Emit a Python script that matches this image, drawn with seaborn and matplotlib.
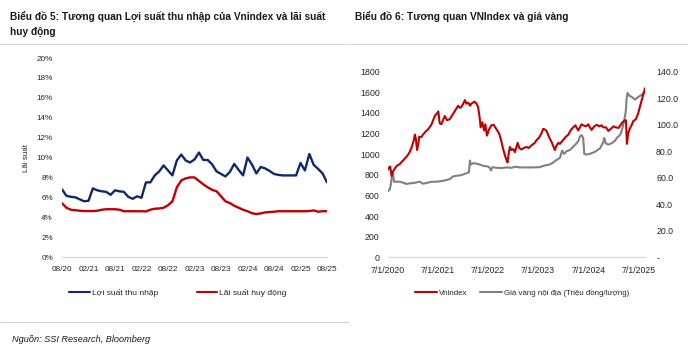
import numpy as np
import pandas as pd
import matplotlib
matplotlib.use("Agg")
import matplotlib.pyplot as plt
import matplotlib.dates as mdates
from matplotlib import font_manager as fm
from matplotlib.lines import Line2D
from matplotlib.ticker import FuncFormatter, MultipleLocator
import seaborn as sns

sns.set_theme(style="white")
_names = {f.name for f in fm.fontManager.ttflist}
if "Liberation Sans Narrow" in _names:
    BASE, SC = "Liberation Sans Narrow", 1.0 / 0.82
else:
    BASE, SC = "Liberation Sans", 1.0
plt.rcParams["font.family"] = [BASE, "DejaVu Sans"]


def fs(v):
    return v * SC


# ---------------- Chart 5 data (monthly, 08/2020 - 08/2025) ----------------
month_labels = ["08/20", "02/21", "08/21", "02/22", "08/22", "02/23",
                "08/23", "02/24", "08/24", "02/25", "08/25"]
earnings_yield = [6.8, 6.15, 6.05, 6.0, 5.8, 5.6, 5.65, 6.9, 6.7, 6.6,
                  6.55, 6.25, 6.7, 6.6, 6.55, 6.05, 5.85, 6.1, 5.95, 7.5,
                  7.5, 8.2, 8.6, 9.2, 8.7, 8.2, 9.7, 10.3, 9.7, 9.5,
                  9.8, 10.5, 9.75, 9.75, 9.3, 8.6, 8.35, 8.1, 8.55, 9.35,
                  8.75, 8.2, 10.0, 9.3, 8.4, 9.05, 8.9, 8.65, 8.35, 8.25,
                  8.2, 8.2, 8.2, 8.2, 9.45, 8.7, 10.35, 9.25, 8.85, 8.4,
                  7.5]
deposit_rate = [5.4, 4.95, 4.75, 4.7, 4.65, 4.62, 4.62, 4.62, 4.65, 4.75,
                4.8, 4.8, 4.8, 4.75, 4.6, 4.6, 4.6, 4.6, 4.6, 4.58,
                4.75, 4.85, 4.88, 4.95, 5.2, 5.6, 7.0, 7.7, 7.9, 8.0,
                8.0, 7.65, 7.3, 7.0, 6.75, 6.6, 6.1, 5.6, 5.42, 5.15,
                4.95, 4.75, 4.6, 4.4, 4.32, 4.38, 4.48, 4.52, 4.55, 4.6,
                4.6, 4.6, 4.6, 4.6, 4.6, 4.6, 4.62, 4.68, 4.55, 4.6,
                4.6]

# ---------------- Chart 6 data ----------------
vni_dates = ["2020-07-01", "2020-07-08", "2020-07-17", "2020-07-27", "2020-08-07",
             "2020-09-01", "2020-09-25", "2020-10-19", "2020-11-13", "2020-12-02",
             "2020-12-19", "2021-01-06", "2021-01-13", "2021-01-20", "2021-01-29",
             "2021-02-07", "2021-02-14", "2021-03-01", "2021-03-13", "2021-04-02",
             "2021-04-19", "2021-05-13", "2021-06-07", "2021-06-26", "2021-07-03",
             "2021-07-13", "2021-07-25", "2021-08-19", "2021-09-05", "2021-09-25",
             "2021-10-07", "2021-11-01", "2021-11-25", "2021-12-07", "2021-12-19",
             "2022-01-05", "2022-01-13", "2022-01-25", "2022-02-07", "2022-02-19",
             "2022-03-01", "2022-03-13", "2022-03-25", "2022-04-07", "2022-04-19",
             "2022-05-01", "2022-05-08", "2022-05-20", "2022-06-02", "2022-06-11",
             "2022-06-23", "2022-07-08", "2022-07-25", "2022-08-11", "2022-09-01",
             "2022-09-20", "2022-10-07", "2022-10-19", "2022-11-01", "2022-11-13",
             "2022-11-20", "2022-11-29", "2022-12-07", "2022-12-19", "2023-01-01",
             "2023-01-13", "2023-02-02", "2023-02-14", "2023-03-01", "2023-03-18",
             "2023-04-07", "2023-04-23", "2023-05-13", "2023-06-07", "2023-06-19",
             "2023-07-08", "2023-07-25", "2023-08-07", "2023-08-19", "2023-09-01",
             "2023-09-13", "2023-09-25", "2023-10-07", "2023-10-19", "2023-11-01",
             "2023-11-08", "2023-11-25", "2023-12-07", "2024-01-01", "2024-01-20",
             "2024-02-07", "2024-02-23", "2024-03-13", "2024-03-29", "2024-04-19",
             "2024-05-01", "2024-05-13", "2024-05-25", "2024-06-14", "2024-07-01",
             "2024-07-13", "2024-07-25", "2024-08-14", "2024-09-01", "2024-09-20",
             "2024-10-07", "2024-10-19", "2024-11-08", "2024-11-25", "2024-12-11",
             "2025-01-01", "2025-01-18", "2025-02-07", "2025-02-23", "2025-03-08",
             "2025-03-22", "2025-04-02", "2025-04-09", "2025-04-18", "2025-05-01",
             "2025-05-13", "2025-05-25", "2025-06-14", "2025-07-01", "2025-07-13",
             "2025-07-25", "2025-08-07", "2025-08-19"]
vni_values = [850, 870, 880, 790, 835,
              885, 905, 940, 975, 1010,
              1060, 1140, 1190, 1150, 1040,
              1100, 1170, 1165, 1190, 1220,
              1240, 1285, 1370, 1400, 1415,
              1300, 1290, 1370, 1330, 1340,
              1365, 1420, 1470, 1450, 1460,
              1500, 1525, 1490, 1500, 1470,
              1490, 1500, 1510, 1490, 1460,
              1350, 1260, 1310, 1230, 1290,
              1180, 1240, 1280, 1285, 1240,
              1200, 1120, 1050, 990, 940,
              920, 1010, 1070, 1040, 1050,
              1020, 1110, 1060, 1045, 1060,
              1070, 1060, 1085, 1110, 1135,
              1160, 1200, 1245, 1240, 1225,
              1185, 1150, 1120, 1080, 1040,
              1070, 1110, 1100, 1140, 1170,
              1190, 1230, 1260, 1280, 1230,
              1260, 1290, 1280, 1270, 1290,
              1260, 1235, 1270, 1285, 1270,
              1280, 1260, 1260, 1225, 1245,
              1270, 1260, 1255, 1285, 1310,
              1325, 1330, 1100, 1200, 1250,
              1280, 1320, 1340, 1400, 1460,
              1520, 1580, 1640]

gold_dates = ["2020-07-01", "2020-07-13", "2020-07-22", "2020-07-30", "2020-08-07",
              "2020-08-14", "2020-09-01", "2020-09-25", "2020-10-19", "2020-11-13",
              "2020-12-07", "2021-01-01", "2021-01-25", "2021-02-19", "2021-03-13",
              "2021-04-07", "2021-05-13", "2021-06-19", "2021-07-25", "2021-09-01",
              "2021-09-25", "2021-10-19", "2021-11-13", "2021-12-19", "2022-01-25",
              "2022-02-11", "2022-02-19", "2022-02-26", "2022-03-13", "2022-04-19",
              "2022-05-25", "2022-07-01", "2022-07-13", "2022-07-22", "2022-08-02",
              "2022-09-01", "2022-10-07", "2022-11-13", "2022-12-19", "2023-01-13",
              "2023-02-19", "2023-04-07", "2023-05-25", "2023-07-13", "2023-08-19",
              "2023-09-25", "2023-10-19", "2023-11-13", "2023-12-07", "2023-12-24",
              "2024-01-06", "2024-01-25", "2024-02-19", "2024-03-13", "2024-04-07",
              "2024-04-19", "2024-05-01", "2024-05-13", "2024-05-25", "2024-06-02",
              "2024-06-19", "2024-07-13", "2024-08-19", "2024-09-25", "2024-10-19",
              "2024-10-26", "2024-11-05", "2024-11-25", "2024-12-19", "2025-01-13",
              "2025-01-25", "2025-02-19", "2025-03-01", "2025-03-18", "2025-04-01",
              "2025-04-07", "2025-04-14", "2025-04-26", "2025-05-13", "2025-06-07",
              "2025-07-01", "2025-07-25", "2025-08-19"]
gold_values = [50, 51, 55, 62, 63,
               57, 57, 57, 56.3, 55.3,
               55.8, 56, 56.5, 57, 55.5,
               56, 57, 57, 57.5, 58.3,
               59, 61, 61.5, 62, 63.5,
               64, 73, 70, 71, 70.4,
               69, 68.5, 67.5, 65.5, 68,
               67.5, 67.3, 67.8, 67.5, 68.3,
               67.8, 67.8, 67.8, 68, 69.3,
               70, 71.5, 73.4, 75, 80.5,
               78, 80, 81, 83.4, 86,
               87.5, 91, 92.2, 90, 78,
               77.5, 78, 79.6, 82.2, 87,
               90, 86, 85, 86, 88,
               90, 92.5, 95, 102, 110,
               120, 124, 122, 121, 119,
               121, 122.5, 125]
year_ticks = ["2020-07-01", "2021-07-01", "2022-07-01", "2023-07-01",
              "2024-07-01", "2025-07-01"]

NAVY = "#10296b"
RED = "#c00000"
GRAY = "#808080"
TXT = "#262626"
AXLINE = "#d9d9d9"

fig = plt.figure(figsize=(7.0, 3.49), dpi=100)

# ---------------- Chart 5 ----------------
df5 = pd.DataFrame({"m": np.arange(len(earnings_yield)),
                    "ey": earnings_yield, "dr": deposit_rate})
ax1 = fig.add_axes([62 / 700, 92 / 349, 265 / 700, 199 / 349])
sns.lineplot(data=df5, x="m", y="ey", ax=ax1, color=NAVY, lw=1.7)
sns.lineplot(data=df5, x="m", y="dr", ax=ax1, color=RED, lw=1.7)
ax1.set_xlim(0, len(earnings_yield) - 1)
ax1.set_ylim(0, 20)
ax1.set_xticks(np.arange(0, len(earnings_yield), 6))
ax1.set_xticklabels(month_labels)
ax1.yaxis.set_major_locator(MultipleLocator(2))
ax1.yaxis.set_major_formatter(FuncFormatter(lambda v, p: f"{v:.0f}%"))
ax1.set_xlabel("")
ax1.set_ylabel("Lãi suất", fontsize=fs(5.8), color=TXT, labelpad=5)
for s in ["top", "right", "left"]:
    ax1.spines[s].set_visible(False)
ax1.spines["bottom"].set_color(AXLINE)
ax1.spines["bottom"].set_linewidth(0.8)
ax1.tick_params(axis="y", length=0, pad=6.5, labelsize=fs(5.9), labelcolor=TXT)
ax1.tick_params(axis="x", length=0, pad=6.5, labelsize=fs(5.9), labelcolor=TXT)

leg5 = [Line2D([], [], color=NAVY, lw=1.5), Line2D([], [], color=RED, lw=1.5)]
fig.legend(leg5, ["Lợi suất thu nhập", "Lãi suất huy động"], loc="center",
           bbox_to_anchor=(178 / 700, 1 - 293 / 349), ncol=2, frameon=False,
           fontsize=fs(6.1), handlelength=2.4, handletextpad=0.25, columnspacing=4.6,
           labelcolor=TXT)

# ---------------- Chart 6 ----------------
df_vni = pd.DataFrame({"date": pd.to_datetime(vni_dates), "v": vni_values})
df_gold = pd.DataFrame({"date": pd.to_datetime(gold_dates), "g": gold_values})
ax2 = fig.add_axes([388 / 700, 91.7 / 349, 257 / 700, 185.6 / 349])
ax3 = ax2.twinx()
sns.lineplot(data=df_gold, x="date", y="g", ax=ax3, color=GRAY, lw=1.5)
sns.lineplot(data=df_vni, x="date", y="v", ax=ax2, color=RED, lw=1.5)
ax2.set_zorder(ax3.get_zorder() + 1)
ax2.patch.set_visible(False)
ax2.set_xlim(pd.Timestamp(vni_dates[0]), pd.Timestamp(vni_dates[-1]))
ax2.set_ylim(0, 1800)
ax3.set_ylim(0, 140)
ax2.yaxis.set_major_locator(MultipleLocator(200))
ax3.yaxis.set_major_locator(MultipleLocator(20))
ax3.yaxis.set_major_formatter(FuncFormatter(lambda v, p: "-" if v == 0 else f"{v:.1f}"))
ax2.set_xticks(pd.to_datetime(year_ticks))
ax2.xaxis.set_major_formatter(FuncFormatter(
    lambda v, p: f"{mdates.num2date(v).month}/{mdates.num2date(v).day}/{mdates.num2date(v).year}"))
for a in (ax2, ax3):
    a.set_xlabel("")
    a.set_ylabel("")
    for s in ["top", "right", "left"]:
        a.spines[s].set_visible(False)
    a.spines["bottom"].set_color(AXLINE)
    a.spines["bottom"].set_linewidth(0.8)
ax2.tick_params(axis="y", length=0, pad=6, labelsize=fs(6.3), labelcolor=TXT)
ax3.tick_params(axis="y", length=0, pad=8, labelsize=fs(6.3), labelcolor=TXT)
ax2.tick_params(axis="x", length=3, width=0.6, color=AXLINE, pad=3.5,
                labelsize=fs(6.3), labelcolor=TXT)

leg6 = [Line2D([], [], color=RED, lw=1.5), Line2D([], [], color=GRAY, lw=1.5)]
fig.legend(leg6, ["Vnindex", "Giá vàng nội địa (Triệu đồng/lượng)"], loc="center",
           bbox_to_anchor=(522 / 700, 1 - 293 / 349), ncol=2, frameon=False,
           fontsize=fs(5.7), handlelength=2.8, handletextpad=0.25, columnspacing=1.6,
           labelcolor=TXT)

# ---------------- titles, separators, source ----------------
TTL = "#1a1a1a"
fig.text(10 / 700, 1 - 16 / 349, "Biểu đồ 5: Tương quan Lợi suất thu nhập của Vnindex và lãi suất",
         fontsize=fs(7.3), fontweight="bold", color=TTL, va="center", ha="left")
fig.text(10 / 700, 1 - 32 / 349, "huy động",
         fontsize=fs(7.3), fontweight="bold", color=TTL, va="center", ha="left")
fig.text(355 / 700, 1 - 16.5 / 349, "Biểu đồ 6: Tương quan VNIndex và giá vàng",
         fontsize=fs(7.3), fontweight="bold", color=TTL, va="center", ha="left")
fig.add_artist(Line2D([0, 348 / 700], [1 - 43.5 / 349] * 2, color="#d6d6d6", lw=0.9))
fig.add_artist(Line2D([350 / 700, 687 / 700], [1 - 43.5 / 349] * 2, color="#d6d6d6", lw=0.9))
fig.add_artist(Line2D([0, 348 / 700], [1 - 322 / 349] * 2, color="#d6d6d6", lw=0.9))
fig.text(12 / 700, 1 - 340 / 349, "Nguồn: SSI Research, Bloomberg", fontsize=fs(6.6),
         style="italic", color=TTL, va="center", ha="left")

fig.savefig("out.png", dpi=100, facecolor="white")
